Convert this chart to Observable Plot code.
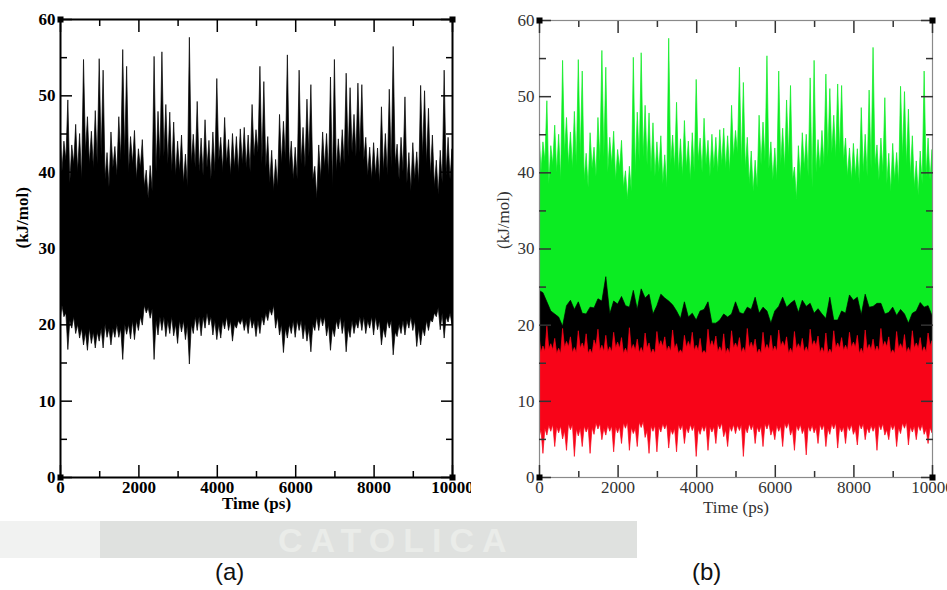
<!DOCTYPE html>
<html><head><meta charset="utf-8">
<script src="https://cdn.jsdelivr.net/npm/d3@7"></script>
<script src="https://cdn.jsdelivr.net/npm/@observablehq/plot@0.6"></script>
<style>
html,body{margin:0;padding:0;background:#fff}
#wrap{position:relative;width:947px;height:590px;overflow:hidden;background:#fff}
#pa{position:absolute;left:0;top:0;width:471px;height:530px;overflow:hidden}
#pb{position:absolute;left:480px;top:0;width:467px;height:530px;overflow:hidden}
#wm{position:absolute;left:100px;top:521px;width:537px;height:37px;background:#dfe1df;overflow:hidden}
#wm0{position:absolute;left:0;top:521px;width:100px;height:37px;background:#f1f2f1}
#wmt{position:absolute;left:178px;top:2px;font:bold 34px/34px "Liberation Sans",sans-serif;color:#eaece9;letter-spacing:8px;white-space:nowrap}
.cap{position:absolute;top:558px;font:24px "Liberation Sans",Arial,sans-serif;color:#111}
</style></head>
<body><div id="wrap">
<div id="wm0"></div><div id="wm"><div id="wmt">CATOLICA</div></div>
<div id="pa"></div><div id="pb"></div>
<div class="cap" style="left:215px">(a)</div>
<div class="cap" style="left:692px">(b)</div>
</div>
<script>
// ---- data (kJ/mol) ----
// sampling times (ps) of the read-off peaks / troughs; in-between levels sit at t + 50
const sampleTimes = d3.range(0, 10001, 100);
const xMajor = [0, 2000, 4000, 6000, 8000, 10000];
const xMinor = [1000, 3000, 5000, 7000, 9000];
const yMajor = [0, 10, 20, 30, 40, 50, 60];
const yMinor = [5, 15, 25, 35, 45, 55];
const xDomain = [0, 10000];
const yDomain = [0, 60];
const xTitle = "Time (ps)";
const yTitle = "(kJ/mol)";

// total energy (panel a, green in panel b): local peaks / troughs at t
const totalHi = [46, 44, 49.4, 43.5, 46.2, 45, 54.7, 47.2, 45.3, 48,
 54.8, 53.3, 42.5, 45.2, 43.3, 47.2, 56, 53.8, 44.6, 45.4,
 43, 44.2, 40.2, 40.8, 55.1, 47.9, 55.7, 48.8, 47.8, 46.5,
 44, 44.8, 42.3, 57.6, 44.9, 49.2, 44.4, 46.8, 44.1, 45.2,
 52.2, 44.5, 47.1, 44.2, 45, 44.6, 45.6, 45.8, 44.8, 48.8,
 45.5, 53.8, 51.8, 44.6, 42.8, 41.6, 47.5, 46.6, 55.3, 44,
 43.2, 53.3, 45.8, 49.5, 51.4, 40.7, 43.5, 45.2, 45, 52.4,
 54.7, 44.3, 45.5, 52.9, 51, 47.5, 51.6, 51.4, 44.5, 43.2,
 43.8, 43.1, 48.5, 45, 50.8, 56.4, 43.6, 44.5, 49.8, 42.5,
 43.8, 42.6, 51.3, 50.6, 48.3, 44.8, 41.5, 42.8, 53.3, 44.5,
 43];
const totalLo = [20.5, 21, 16.7, 19.5, 18.8, 18.2, 17.3, 16.6, 17.5, 16.9,
 17.8, 16.9, 18.3, 17.3, 18.3, 18.3, 15.4, 18.7, 18.1, 18,
 19.2, 19.9, 21.5, 20.8, 15.4, 18.6, 19.2, 18.4, 18.8, 18.5,
 17.5, 19, 18, 14.8, 18.8, 19.2, 18.5, 19.5, 19.9, 18.6,
 18, 18.2, 19.4, 19.2, 17.8, 19.5, 20, 19.2, 18.8, 19.5,
 18.4, 18.8, 19.9, 20.5, 21.2, 19.5, 18.6, 16.3, 18.2, 18.8,
 18.3, 19.2, 18.1, 17.8, 16.4, 19.2, 19.2, 19.8, 18.5, 16.6,
 18.4, 19.4, 18.8, 16.4, 18.3, 18.8, 19.5, 19.2, 18.8, 19.5,
 18.6, 19.3, 17.3, 18.3, 19.5, 16, 18.4, 18.8, 18.6, 19.5,
 19.2, 17.1, 17.3, 18.5, 19.2, 20.3, 21, 19.3, 18.2, 20.3,
 20];
// total energy: upper / lower level between the peaks (at t + 50)
const totalHiMid = [40, 41.5, 38.5, 41, 40, 39, 42.5, 41, 40.5, 41,
 42, 39, 38, 40.5, 39.5, 41.5, 42, 40, 41, 39,
 40.5, 38, 36.5, 37.5, 40, 41.5, 42, 41, 40, 39.5,
 40, 38.5, 38, 41, 40.5, 40, 39.5, 40.5, 39, 40,
 41.5, 40, 41, 39.5, 40.5, 40, 41, 40.5, 40, 42,
 42.5, 41, 40.5, 38.5, 37.5, 38, 41, 41.5, 40.5, 39,
 39, 41, 40.5, 42, 39, 36.5, 39, 40.5, 39.5, 38,
 40, 40.5, 41, 42, 42.5, 42, 42.5, 41.5, 39.5, 39,
 39.5, 38.5, 40, 39.5, 40.5, 41, 39, 40, 38.5, 37.5,
 39, 38.5, 42, 41, 39.5, 38, 37, 38.5, 39.5, 39];
const totalLoMid = [22.5, 21.5, 20.5, 21, 20, 19.5, 19, 19.5, 19, 19,
 19.5, 20, 19.5, 19.5, 20, 19.5, 20, 20, 20.5, 20.5,
 21, 22.5, 22.2, 22, 20.5, 21, 21, 20.5, 21, 20,
 20.5, 20.5, 20, 20, 21, 21, 21, 21.5, 21, 20.5,
 20, 20.5, 21, 20.5, 20, 20.5, 20.8, 20.5, 21, 20.5,
 20.5, 21, 21.5, 22, 22.5, 21, 20, 19.5, 20, 20.5,
 20.5, 20.5, 20, 19.5, 20, 21, 21, 21, 20, 19.5,
 20.5, 21, 20.5, 19.5, 20.5, 20.3, 21, 21, 20.5, 21,
 21, 20.5, 19.5, 20.5, 20.5, 19, 20, 20.5, 20.5, 21,
 20.5, 19.5, 19.5, 20.5, 20.6, 21.5, 22.2, 21.5, 21, 21.5];

// black component (panel b); its lows are mostly hidden under the red band
const blackHi = [24.5, 24.2, 23, 21.8, 21.4, 21, 19.8, 22.5, 23.2, 22,
 23, 21.5, 21.4, 22.3, 22.2, 23.4, 23.1, 26.3, 21.4, 23.1,
 22.7, 23.7, 22.5, 22.3, 24.5, 22, 24.7, 23.5, 24, 21.4,
 22.5, 24, 23.5, 23.1, 22.6, 21.8, 20.8, 23, 21, 21.5,
 20.6, 21.8, 22, 23, 20.2, 20.2, 20.6, 21.4, 21, 21.4,
 23, 21.6, 21.4, 22.3, 22, 23.6, 21.5, 22.3, 21.8, 20.2,
 21.8, 22.4, 23.6, 22.3, 22.8, 23.2, 21.6, 23.2, 22.4, 22.8,
 21.5, 22.1, 21.4, 20.8, 23.6, 20.6, 20.6, 21.8, 21.5, 23.9,
 23.2, 23.6, 21.3, 24, 22.3, 22.4, 22.8, 22.8, 21.4, 21.6,
 22.3, 21.2, 22, 21.4, 20.2, 21.5, 21.8, 22.9, 22.3, 22.5,
 21.2];
const blackLo = [15.5, 15, 14.5, 15.7, 15.3, 14.5, 14.3, 15.1, 15.5, 14.7,
 15, 15.6, 14.8, 14.4, 14.9, 14, 15.3, 13.7, 14.1, 14.5,
 13.9, 14.7, 13.5, 14.3, 14.9, 14, 14.5, 13.8, 15.1, 14.4,
 14.6, 13.9, 14.8, 13.5, 14.3, 15, 14.7, 15.3, 14.5, 15.1,
 15.5, 14.7, 15.3, 14.9, 15.7, 15.1, 15.5, 15, 14.7, 15.6,
 14.9, 14.5, 15.4, 14.3, 14.8, 15.1, 14.1, 14.7, 15.3, 14.9,
 15.3, 14.4, 14.7, 14, 14.8, 14.3, 15.1, 14.2, 14.9, 14.1,
 15, 14.4, 14.8, 15.3, 14.2, 15.1, 15.4, 14.7, 15, 14.3,
 14.5, 14.1, 14.9, 14, 14.6, 15.2, 14.4, 14.8, 15.3, 14.6,
 15, 15.4, 14.7, 15.1, 15.5, 14.8, 15.2, 14.6, 14.9, 15.4,
 15.5];

// red component (panel b): peaks / troughs at t
const redHi = [18.5, 17.2, 19.8, 17.5, 18.2, 16.9, 19.5, 17.8, 18.4, 17,
 19.2, 17.6, 18.8, 16.8, 18, 19.4, 17.3, 18.6, 17.1, 19,
 17.7, 18.3, 16.9, 19.6, 17.4, 18.1, 17, 18.9, 17.6, 16.8,
 19.1, 17.9, 18.4, 17.2, 19.3, 17.5, 16.7, 18.6, 17.8, 19,
 17.3, 18.2, 16.6, 19.4, 17.9, 18.5, 17.1, 18.8, 16.9, 19.2,
 17.6, 18.3, 17, 19.5, 17.7, 18.1, 16.8, 19, 17.4, 18.6,
 17.2, 19.3, 17.8, 18.4, 16.9, 19.1, 17.5, 18.2, 17.1, 19.4,
 17.9, 18.5, 17, 18.9, 16.8, 19.2, 17.6, 18.3, 17.3, 19,
 17.7, 18.6, 16.9, 19.3, 17.4, 18.1, 17.2, 19.5, 17.8, 18.4,
 16.7, 19.1, 17.5, 18.7, 17, 19.2, 17.6, 18.3, 17.1, 18.9,
 17.9];
const redLo = [5.2, 3.1, 5.5, 6, 4, 5.8, 5, 3.5, 6.2, 2.7,
 5.4, 4, 5.9, 3.1, 5.6, 6.3, 4.9, 5.5, 6, 3.3,
 5.8, 4.4, 6.4, 3.5, 5.7, 4, 6.5, 5.2, 3.1, 6,
 3.3, 5.9, 6.3, 3.8, 5.6, 3.3, 6.2, 4.4, 5.8, 6.1,
 2.7, 5.6, 6, 3.5, 5.9, 4.4, 6.3, 5.3, 4, 6,
 5.7, 6.1, 2.7, 5.8, 6.2, 4.4, 5.9, 4, 6.3, 5.5,
 4.9, 6, 4, 6.4, 5.5, 3.5, 6.1, 5.7, 2.9, 6,
 5.8, 4.4, 6.2, 4, 5.6, 6.3, 3.8, 5.9, 4.4, 6.1,
 5.6, 4.2, 6.3, 4.9, 5.8, 6, 3.5, 6.2, 5.5, 4.9,
 6.2, 4, 5.7, 6.4, 4.2, 5.9, 4.9, 6.1, 5.6, 4.4,
 5.8];
// red component: upper / lower level between the peaks (at t + 50)
const redHiMid = [16.4, 16.5, 16.8, 16.7, 16.2, 16.2, 17, 17.1, 16.3, 16.3,
 16.9, 16.8, 16.2, 16.2, 17.2, 16.6, 16.5, 16.4, 16.4, 16.9,
 16.9, 16.2, 16.2, 16.7, 16.6, 16.3, 16.3, 16.9, 16.2, 16.2,
 17.1, 17.1, 16.5, 16.5, 16.8, 16.2, 16.2, 17, 17, 16.6,
 16.6, 16.2, 16.2, 17.1, 17.1, 16.4, 16.4, 16.2, 16.2, 16.9,
 16.9, 16.3, 16.3, 16.9, 16.9, 16.2, 16.2, 16.7, 16.7, 16.5,
 16.5, 17.1, 17.1, 16.2, 16.2, 16.8, 16.8, 16.4, 16.4, 17.2,
 17.2, 16.3, 16.3, 16.2, 16.2, 16.9, 16.9, 16.6, 16.6, 17,
 17, 16.2, 16.2, 16.7, 16.7, 16.5, 16.5, 17.1, 17.1, 16.2,
 16.2, 16.8, 16.8, 16.3, 16.3, 16.9, 16.9, 16.4, 16.4, 17.2];
const redLoMid = [6.2, 6.4, 6.8, 6.9, 6.6, 6.7, 6.1, 7, 6.9, 6.3,
 6.4, 6.7, 6.6, 6.5, 7.1, 7, 6.4, 6.8, 6.7, 6.6,
 6.6, 7.1, 7.2, 6.5, 6.4, 7.2, 7.3, 6.1, 6.7, 6.8,
 6.6, 7, 7, 6.3, 6.4, 6.9, 6.9, 6.5, 6.9, 6.8,
 6.3, 6.7, 6.8, 6.6, 6.6, 7, 7.1, 6.2, 6.7, 6.9,
 6.8, 6.9, 6.5, 7, 6.9, 6.6, 6.7, 7, 7.1, 6.3,
 6.8, 6.7, 7.1, 7.2, 6.3, 6.8, 6.9, 6.4, 6.7, 6.8,
 6.5, 6.9, 6.9, 6.4, 7, 7.1, 6.6, 6.6, 6.8, 6.9,
 6.3, 7, 7, 6.5, 6.8, 6.7, 6.9, 7, 6.2, 6.9,
 6.9, 6.5, 7.1, 7.2, 6.6, 6.7, 6.8, 6.9, 6.3, 6.5];

// ---- records: trough and peak at t (plus the in-between level when read) ----
function series(hi, lo, hiMid, loMid) {
  const out = [];
  sampleTimes.forEach((t, i) => {
    out.push({t, lo: lo[i], hi: hi[i]});
    if (hiMid && i < hiMid.length) out.push({t: t + 50, lo: loMid[i], hi: hiMid[i]});
  });
  return out;
}
const corners = [];
for (const x of xDomain) for (const y of yDomain) corners.push({x, y});

function panel({el, bands, bold, axisColor, frameColor, textColor, marginLeft, marginRight, marginTop, width, yLabelDx, xLabelDy}) {
  const ax = (data, o) => Plot.axisX(data, {fill: "none", stroke: axisColor, ...o});
  const ay = (data, o) => Plot.axisY(data, {fill: "none", stroke: axisColor, ...o});
  const chart = Plot.plot({
    width, height: 530,
    marginLeft, marginRight, marginTop, marginBottom: 53,
    x: {domain: xDomain},
    y: {domain: yDomain},
    style: {fontFamily: "'Liberation Serif','Times New Roman',serif", fontSize: "17px", fontWeight: bold ? "bold" : "normal", color: textColor, background: "transparent", overflow: "visible"},
    marks: [
      ...bands.map(([data, color]) => Plot.areaY(data, {x: "t", y1: "lo", y2: "hi", fill: color, stroke: color, strokeWidth: 0.7, clip: true})),
      Plot.frame({stroke: frameColor, strokeWidth: bold ? 2 : 1.2}),
      ax(xMajor, {anchor: "bottom", tickSize: -12, strokeWidth: 1.5}),
      ax(xMinor, {anchor: "bottom", tickSize: -6, strokeWidth: 1.5}),
      ax(xMajor, {anchor: "top", tickSize: -12, strokeWidth: 1.5}),
      ax(xMinor, {anchor: "top", tickSize: -6, strokeWidth: 1.5}),
      ay(yMajor, {anchor: "left", tickSize: -12, strokeWidth: 1.5}),
      ay(yMinor, {anchor: "left", tickSize: -7, strokeWidth: 1.5}),
      ay(yMajor, {anchor: "right", tickSize: -12, strokeWidth: 1.5}),
      ay(yMinor, {anchor: "right", tickSize: -7, strokeWidth: 1.5}),
      Plot.axisX(xMajor, {anchor: "bottom", tickSize: 0, tickPadding: 3, label: null, tickFormat: d => String(d), fill: textColor}),
      Plot.axisY(yMajor, {anchor: "left", tickSize: 0, tickPadding: 5, label: null, tickFormat: d => String(d), fill: textColor}),
      Plot.dot(corners, {x: "x", y: "y", symbol: "square", r: 3.4, fill: "#000", stroke: "none"}),
      Plot.text([xTitle], {frameAnchor: "bottom", text: d => d, dy: xLabelDy, fill: textColor}),
      Plot.text([yTitle], {frameAnchor: "left", text: d => d, rotate: -90, dx: yLabelDx, fill: textColor})
    ]
  });
  document.getElementById(el).appendChild(chart);
}

panel({
  el: "pa", width: 471, marginLeft: 60, marginRight: 19, marginTop: 19,
  bold: true, axisColor: "#000", frameColor: "#000", textColor: "#000",
  yLabelDx: -38, xLabelDy: 31,
  bands: [[series(totalHi, totalLo, totalHiMid, totalLoMid), "#000"]]
});
panel({
  el: "pb", width: 467, marginLeft: 59, marginRight: 15, marginTop: 20,
  bold: false, axisColor: "#333", frameColor: "#8a8a8a", textColor: "#333",
  yLabelDx: -36, xLabelDy: 35,
  bands: [
    [series(totalHi, totalLo, totalHiMid, totalLoMid), "#0bec22"],
    [series(blackHi, blackLo), "#000"],
    [series(redHi, redLo, redHiMid, redLoMid), "#f80418"]
  ]
});
</script>
</body></html>
